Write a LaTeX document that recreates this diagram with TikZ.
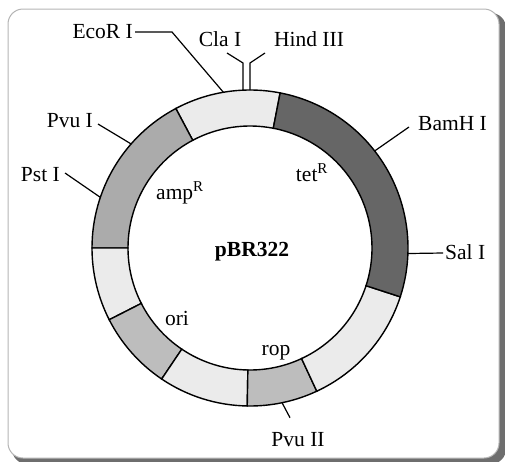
\documentclass[tikz,border=0pt]{standalone}
\usepackage{fontspec}
\setmainfont{Liberation Serif}
\usetikzlibrary{calc}
\definecolor{seglight}{HTML}{EBEBEB}
\definecolor{segdark}{HTML}{666666}
\definecolor{segamp}{HTML}{ABABAB}
\definecolor{segmid}{HTML}{BDBDBD}
\definecolor{frameline}{HTML}{B4B4B4}
\definecolor{frameshadow}{HTML}{6E6E6E}
\begin{document}
\begin{tikzpicture}[x=1pt,y=1pt,
  seg/.style={draw=black,line width=1.4pt,line join=miter},
  lbl/.style={inner sep=0pt,font=\fontsize{21.5}{24}\selectfont},
  leader/.style={draw=black,line width=1.2pt}]
\clip (0,0) rectangle (505,-461);
\useasboundingbox (0,0) rectangle (505,-461);
% frame with shadow
\fill[frameshadow,rounded corners=15pt] (12,-13) rectangle (506,-464);
\filldraw[fill=white,draw=frameline,line width=1pt,rounded corners=15pt] (8,-9) rectangle (499,-458);
% plasmid ring
\coordinate (C) at (250,-248);
\def\Ro{158}\def\Ri{122}
\foreach \a/\b/\c in {79/118/seglight,118/180/segamp,180/207/seglight,207/236/segmid,236/269/seglight,269/295/segmid,295/342/seglight,342/439/segdark}{
  \filldraw[seg,fill=\c] ($(C)+(\a:\Ro)$) arc[start angle=\a,end angle=\b,radius=\Ro]
    -- ($(C)+(\b:\Ri)$) arc[start angle=\b,end angle=\a,radius=\Ri] -- cycle;
}
% sites on the ring
\coordinate (sEco) at ($(C)+(99.7:\Ro)$);
\coordinate (sCla) at ($(C)+(92.5:\Ro)$);
\coordinate (sHind) at ($(C)+(90:\Ro)$);
\coordinate (sPvuI) at ($(C)+(138.8:\Ro)$);
\coordinate (sPst) at ($(C)+(161.3:\Ro)$);
\coordinate (sBam) at ($(C)+(37.9:\Ro)$);
\coordinate (sSal) at ($(C)+(-2:\Ro)$);
\coordinate (sPvuII) at ($(C)+(-78.3:\Ro)$);
% labels
\node[lbl,anchor=base east] (eco) at (133,-38) {EcoR I};
\node[lbl,anchor=base] (cla) at (220,-46) {Cla I};
\node[lbl,anchor=base] (hind) at (309,-46) {Hind III};
\node[lbl,anchor=base east] (pvui) at (93,-127) {Pvu I};
\node[lbl,anchor=base east] (pst) at (60,-181) {Pst I};
\node[lbl,anchor=base west] (bam) at (418,-130) {BamH I};
\node[lbl,anchor=base west] (sal) at (445,-259) {Sal I};
\node[lbl,anchor=base] (pvuii) at (298,-446) {Pvu II};
\node[lbl,anchor=base] (amp) at (180,-199) {amp\textsuperscript{R}};
\node[lbl,anchor=base] (tet) at (312,-181) {tet\textsuperscript{R}};
\node[lbl,anchor=base] (ori) at (177,-325) {ori};
\node[lbl,anchor=base] (rop) at (276,-355) {rop};
\node[lbl,anchor=base,font=\fontsize{21.5}{24}\selectfont\bfseries] (name) at (252,-256) {pBR322};
% leader lines
\coordinate (kEco) at (172,-32);
\coordinate (kCla) at (243,-63);
\coordinate (kHind) at (250,-63);
\draw[leader] ([xshift=2pt,yshift=6pt]eco.base east) -- (kEco) -- (sEco);
\draw[leader] (227,-53) -- (kCla) -- (kCla |- sCla);
\draw[leader] (265,-53) -- (kHind) -- (sHind);
\draw[leader] ([xshift=5pt,yshift=3pt]pvui.base east) -- (sPvuI);
\draw[leader] ([xshift=5pt,yshift=8pt]pst.base east) -- (sPst);
\draw[leader] ([xshift=-9pt,yshift=3pt]bam.base west) -- (sBam);
\draw[leader] ([xshift=-2pt,yshift=6pt]sal.base west) -- (sSal);
\draw[leader] ([xshift=-8pt,yshift=14pt]pvuii.north) -- (sPvuII);
\end{tikzpicture}
\end{document}
